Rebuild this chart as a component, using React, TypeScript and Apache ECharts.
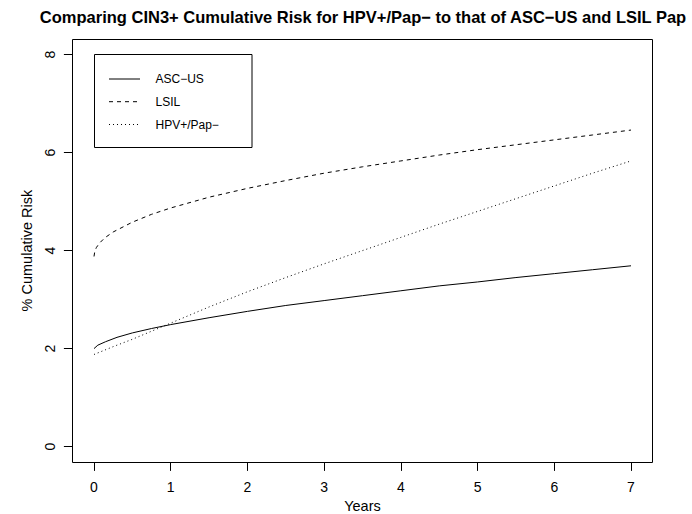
import React, { useEffect, useRef } from "react";
import * as echarts from "echarts";

const TITLE = "Comparing CIN3+ Cumulative Risk for HPV+/Pap\u2212 to that of ASC\u2212US and LSIL Pap";
const X_NAME = "Years";
const Y_NAME = "% Cumulative Risk";
const SERIES_NAMES = ["ASC\u2212US", "LSIL", "HPV+/Pap\u2212"];

const ascusYears = [0, 0.05, 0.15, 0.3, 0.5, 0.75, 1, 1.5, 2, 2.5, 3, 3.5, 4, 4.5, 5, 5.5, 6, 6.5, 7];
const ascusRisk = [2.0, 2.07, 2.14, 2.23, 2.32, 2.41, 2.49, 2.63, 2.76, 2.88, 2.98, 3.08, 3.18, 3.28, 3.36, 3.45, 3.53, 3.61, 3.69];

const lsilYears = [0, 0.01, 0.03, 0.07, 0.14, 0.25, 0.5, 0.75, 1, 1.5, 2, 2.5, 3, 3.5, 4, 4.5, 5, 5.5, 6, 6.5, 7];
const lsilRisk = [3.88, 3.98, 4.06, 4.15, 4.26, 4.38, 4.58, 4.74, 4.87, 5.09, 5.27, 5.43, 5.58, 5.71, 5.83, 5.95, 6.06, 6.16, 6.26, 6.36, 6.46];

const hpvYears = [0, 0.25, 0.5, 1, 1.5, 2, 2.5, 3, 3.5, 4, 4.5, 5, 5.5, 6, 6.5, 7];
const hpvRisk = [1.88, 2.04, 2.19, 2.52, 2.85, 3.16, 3.45, 3.73, 4.0, 4.27, 4.54, 4.8, 5.06, 5.32, 5.58, 5.83];

const FONT = "'Liberation Sans', Arial, Helvetica, sans-serif";

function pairs(xs: number[], ys: number[]) {
  return xs.map((x, i) => [x, ys[i]]);
}

export default function App() {
  const ref = useRef<HTMLDivElement>(null);
  useEffect(() => {
    document.body.style.margin = "0";
    if (!ref.current) return;
    const chart = echarts.init(ref.current, null, { renderer: "svg" });
    const lineStyles: any[] = [
      { color: "#000", width: 1, type: "solid" },
      { color: "#000", width: 1, type: [4, 4] },
      { color: "#000", width: 1, type: [1, 3] },
    ];
    const datasets = [
      pairs(ascusYears, ascusRisk),
      pairs(lsilYears, lsilRisk),
      pairs(hpvYears, hpvRisk),
    ];
    const legendLeft = 94;
    const legendTop = 54;
    const legendRowY = [79, 101.7, 124.5];
    const legendGraphics: any[] = [
      {
        type: "rect",
        shape: { x: legendLeft + 0.5, y: legendTop + 0.5, width: 157.5, height: 93 },
        style: { fill: "none", stroke: "#000", lineWidth: 1 },
      },
    ];
    SERIES_NAMES.forEach((name, i) => {
      legendGraphics.push({
        type: "line",
        shape: { x1: 109, y1: legendRowY[i], x2: 140, y2: legendRowY[i] },
        style: {
          stroke: "#000",
          lineWidth: 1,
          lineDash: i === 0 ? null : lineStyles[i].type,
        },
      });
      legendGraphics.push({
        type: "text",
        x: 155.5,
        y: legendRowY[i],
        style: {
          text: name,
          fill: "#000",
          font: `12px ${FONT}`,
          textAlign: "left",
          textVerticalAlign: "middle",
        },
      });
    });
    const axisCommon = {
      type: "value" as const,
      nameLocation: "middle" as const,
      nameTextStyle: { color: "#000", fontSize: 14.5, fontFamily: FONT },
      axisLine: { show: true, onZero: false, lineStyle: { color: "#000", width: 1 } },
      axisTick: { show: true, length: 8.6, lineStyle: { color: "#000", width: 1 } },
      splitLine: { show: false },
    };
    chart.setOption({
      animation: false,
      backgroundColor: "#fff",
      textStyle: { fontFamily: FONT },
      grid: {
        left: 94,
        right: 61,
        top: 54.6,
        bottom: 67.4,
        containLabel: false,
        outerBoundsMode: "none",
      },
      xAxis: {
        ...axisCommon,
        min: 0,
        max: 7,
        interval: 1,
        offset: 15.7,
        name: X_NAME,
        nameGap: 35,
        axisLabel: { color: "#000", fontSize: 14, fontFamily: FONT, margin: 17.7 },
      },
      yAxis: {
        ...axisCommon,
        min: 0,
        max: 8,
        interval: 2,
        offset: 21.5,
        name: Y_NAME,
        nameGap: 35,
        axisLabel: { color: "#000", fontSize: 14, fontFamily: FONT, margin: 16, rotate: 90 },
      },
      series: SERIES_NAMES.map((name, i) => ({
        name,
        type: "line",
        data: datasets[i],
        symbol: "none",
        smooth: false,
        lineStyle: lineStyles[i],
        clip: false,
      })),
      graphic: [
        {
          type: "rect",
          shape: { x: 72.5, y: 39.5, width: 580, height: 423 },
          style: { fill: "none", stroke: "#000", lineWidth: 1 },
          z: 10,
        },
        {
          type: "text",
          x: 363,
          y: 17,
          style: {
            text: TITLE,
            fill: "#000",
            font: `bold 16.5px ${FONT}`,
            textAlign: "center",
            textVerticalAlign: "middle",
          },
        },
        ...legendGraphics,
      ],
    });
    return () => chart.dispose();
  }, []);
  return <div ref={ref} style={{ width: 692, height: 514 }} />;
}
